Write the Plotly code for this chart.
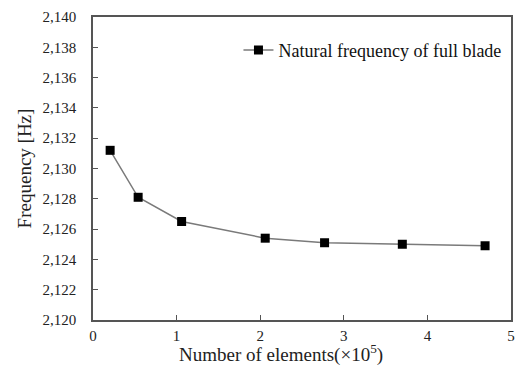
import plotly.graph_objects as go

elements_e5 = [0.205, 0.54, 1.06, 2.06, 2.77, 3.70, 4.69]
frequency_hz = [2131.2, 2128.1, 2126.5, 2125.4, 2125.1, 2125.0, 2124.9]
series_name = "Natural frequency of full blade"
x_title = "Number of elements(×10<sup>5</sup>)"
y_title = "Frequency [Hz]"

FONT = "Liberation Serif"

fig = go.Figure()
fig.add_trace(go.Scatter(
    x=elements_e5, y=frequency_hz, mode="lines+markers", name=series_name,
    line=dict(color="#7a7a7a", width=1.5),
    marker=dict(symbol="square", size=9, color="black"),
))

axis_common = dict(
    showline=True, linecolor="#555555", linewidth=1.5, mirror=True,
    ticks="inside", ticklen=5, tickcolor="#555555", tickwidth=1,
    showgrid=False, zeroline=False,
    tickfont=dict(family=FONT, size=15, color="#222222"),
)

fig.update_layout(
    width=524, height=372,
    margin=dict(l=93, r=9, t=15, b=52),
    paper_bgcolor="white", plot_bgcolor="white",
    font=dict(family=FONT, color="#222222"),
    xaxis=dict(range=[0, 5], dtick=1, tick0=0, ticklabelstandoff=1, **axis_common),
    yaxis=dict(range=[2120, 2140], dtick=2, tick0=2120, tickformat=",d",
               ticklabelstandoff=12,
               title=dict(text=y_title, font=dict(family=FONT, size=19), standoff=6),
               **axis_common),
    showlegend=True,
    legend=dict(x=0.348, y=0.89, xanchor="left", yanchor="middle",
                font=dict(family=FONT, size=18, color="#111111"),
                bgcolor="rgba(0,0,0,0)", itemwidth=30, tracegroupgap=0),
)
fig.add_annotation(text=x_title, xref="paper", yref="paper", x=0.45, y=-0.11,
                   xanchor="center", yanchor="middle", showarrow=False,
                   font=dict(family=FONT, size=19, color="#222222"))

fig.write_html("out.html")
